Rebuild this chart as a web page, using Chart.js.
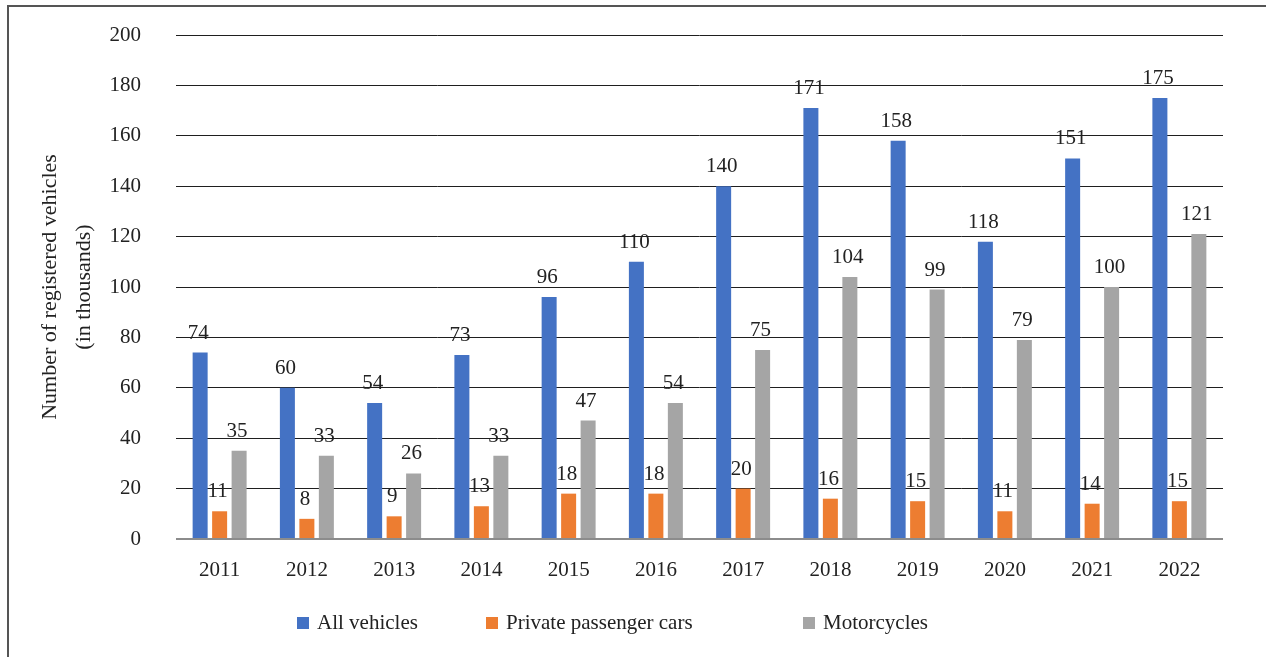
<!DOCTYPE html>
<html>
<head>
<meta charset="utf-8">
<script src="https://cdn.jsdelivr.net/npm/chart.js@4.4.1/dist/chart.umd.min.js"></script>
<style>
  html, body { margin: 0; padding: 0; background: #ffffff; overflow: hidden; }
  #wrap { position: relative; width: 1266px; height: 657px; }
  #frame { position: absolute; left: 7px; top: 5px; width: 1400px; height: 800px;
           border-left: 2px solid #555555; border-top: 2px solid #555555; }
  canvas { position: absolute; left: 0; top: 0; }
</style>
</head>
<body>
<div id="wrap">
  <div id="frame"></div>
  <canvas id="c" width="1266" height="657"></canvas>
</div>
<script>
const categories = ['2011','2012','2013','2014','2015','2016','2017','2018','2019','2020','2021','2022'];
const allVehicles = [74, 60, 54, 73, 96, 110, 140, 171, 158, 118, 151, 175];
const privateCars = [11, 8, 9, 13, 18, 18, 20, 16, 15, 11, 14, 15];
const motorcycles = [35, 33, 26, 33, 47, 54, 75, 104, 99, 79, 100, 121];
const seriesNames = ['All vehicles', 'Private passenger cars', 'Motorcycles'];
const yTitle = ['Number of registered vehicles', '(in thousands)'];

const FONT = 'Liberation Serif, "Times New Roman", serif';
const TEXT = '#222222';

const dataLabels = {
  id: 'dataLabels',
  afterDatasetsDraw(chart) {
    const ctx = chart.ctx;
    ctx.save();
    ctx.font = '21px ' + FONT;
    ctx.fillStyle = TEXT;
    ctx.textAlign = 'center';
    ctx.textBaseline = 'alphabetic';
    chart.data.datasets.forEach((ds, di) => {
      const meta = chart.getDatasetMeta(di);
      meta.data.forEach((bar, i) => {
        ctx.fillText(String(ds.data[i]), bar.x - 2, bar.y - 14);
      });
    });
    ctx.restore();
  }
};

const customLegend = {
  id: 'customLegend',
  afterDraw(chart, args, opts) {
    const ctx = chart.ctx;
    ctx.save();
    ctx.font = '21px ' + FONT;
    ctx.textBaseline = 'middle';
    ctx.textAlign = 'left';
    chart.data.datasets.forEach((ds, i) => {
      const bx = opts.boxX[i];
      ctx.fillStyle = ds.backgroundColor;
      ctx.fillRect(bx, opts.y - 6, 12, 12);
      ctx.fillStyle = TEXT;
      ctx.fillText(ds.label, bx + 20, opts.y);
    });
    ctx.restore();
  }
};

new Chart(document.getElementById('c'), {
  type: 'bar',
  data: {
    labels: categories,
    datasets: [
      { label: seriesNames[0], data: allVehicles, backgroundColor: '#4472C4' },
      { label: seriesNames[1], data: privateCars, backgroundColor: '#ED7D31' },
      { label: seriesNames[2], data: motorcycles, backgroundColor: '#A5A5A5' }
    ]
  },
  options: {
    responsive: false,
    animation: false,
    events: [],
    categoryPercentage: 0.67,
    barPercentage: 0.77,
    layout: { padding: { left: 0, top: 35, right: 43, bottom: 0 } },
    plugins: {
      legend: { display: false },
      tooltip: { enabled: false },
      customLegend: { boxX: [297, 486, 803], y: 623 }
    },
    scales: {
      x: {
        grid: { display: false },
        border: { display: false },
        ticks: { font: { family: FONT, size: 21 }, color: TEXT, padding: 11, maxRotation: 0 },
        afterFit(scale) { scale.height = 118; scale.paddingLeft = 0; scale.paddingRight = 0; }
      },
      y: {
        min: 0, max: 200,
        border: { display: false },
        grid: {
          drawTicks: false,
          color: (c) => c.tick && c.tick.value === 0 ? '#8c8c8c' : '#1f1f1f',
          lineWidth: (c) => c.tick && c.tick.value === 0 ? 2 : 1
        },
        ticks: { stepSize: 20, font: { family: FONT, size: 21 }, color: TEXT, padding: 35 },
        title: {
          display: true,
          text: yTitle,
          color: TEXT,
          font: { family: FONT, size: 22, lineHeight: 34 / 22 },
          padding: { top: 33, bottom: 0 }
        },
        afterFit(scale) { scale.width = 176; scale.paddingTop = 0; scale.paddingBottom = 0; }
      }
    }
  },
  plugins: [dataLabels, customLegend]
});
</script>
</body>
</html>
